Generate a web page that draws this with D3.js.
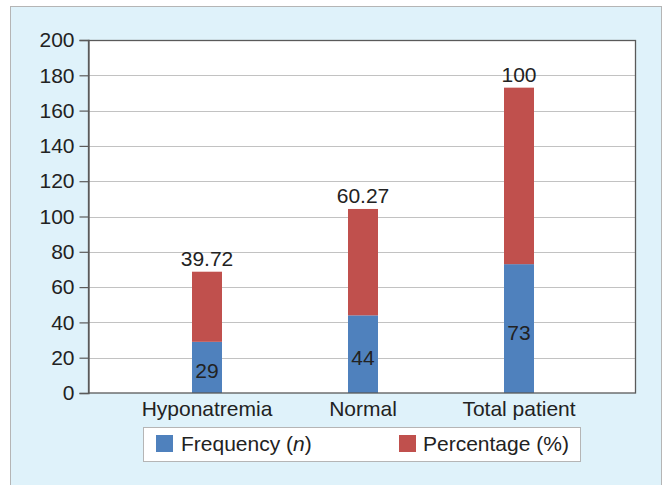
<!DOCTYPE html>
<html><head><meta charset="utf-8">
<script src="https://cdn.jsdelivr.net/npm/d3@7"></script>
<style>html,body{margin:0;padding:0;background:#fff}svg{display:block}</style>
</head><body><svg id="c" width="665" height="485"></svg>
<script>
const categories = ["Hyponatremia", "Normal", "Total patient"];
const frequency = [29, 44, 73];
const percentage = [39.72, 60.27, 100];
const percentLabels = ["39.72", "60.27", "100"];
const yTicks = [0, 20, 40, 60, 80, 100, 120, 140, 160, 180, 200];
const seriesNames = ["Frequency (", "Percentage (%)"];

const svg = d3.select("#c");
const font = "'Liberation Sans', Arial, sans-serif";
const fs = 21;
const blue = "#4F81BD", red = "#C0504D";

// outer panel
svg.append("rect").attr("x", 10.5).attr("y", 6.5).attr("width", 651).attr("height", 490)
  .attr("fill", "#dff2fa").attr("stroke", "#b5b5b5").attr("stroke-width", 1);

const L = 88.5, R = 635.5, T = 40, B = 393;
const y = d3.scaleLinear().domain([0, 200]).range([B, T]);
const x = d3.scalePoint().domain(categories).range([207, 519]);
const bw = 30;

svg.append("rect").attr("x", L).attr("y", T).attr("width", R - L).attr("height", B - T).attr("fill", "#fff");

// gridlines
svg.append("g").selectAll("line").data(yTicks.filter(d => d > 0 && d < 200)).join("line")
  .attr("x1", L).attr("x2", R).attr("y1", d => Math.round(y(d)) + 0.5).attr("y2", d => Math.round(y(d)) + 0.5)
  .attr("stroke", "#c2c2c2").attr("stroke-width", 1.2);

// bars
const g = svg.append("g");
categories.forEach((c, i) => {
  const cx = x(c);
  g.append("rect").attr("x", cx - bw / 2).attr("width", bw)
    .attr("y", y(frequency[i])).attr("height", y(0) - y(frequency[i])).attr("fill", blue);
  g.append("rect").attr("x", cx - bw / 2).attr("width", bw)
    .attr("y", y(frequency[i] + percentage[i])).attr("height", y(frequency[i]) - y(frequency[i] + percentage[i])).attr("fill", red);
  g.append("text").attr("x", cx).attr("y", (y(0) + y(frequency[i])) / 2 + 11)
    .attr("text-anchor", "middle").attr("font-family", font).attr("font-size", fs).attr("fill", "#222")
    .text(frequency[i]);
  g.append("text").attr("x", cx).attr("y", y(frequency[i] + percentage[i]) - 6)
    .attr("text-anchor", "middle").attr("font-family", font).attr("font-size", fs).attr("fill", "#222")
    .text(percentLabels[i]);
});

// frame
svg.append("rect").attr("x", L).attr("y", T + 0.5).attr("width", R - L).attr("height", B - T - 0.5)
  .attr("fill", "none").attr("stroke", "#5a5a5a").attr("stroke-width", 1.3);

// y axis
const yAxis = d3.axisLeft(y).tickValues(yTicks).tickSize(9).tickPadding(5);
const ya = svg.append("g").attr("transform", `translate(${L},0)`).call(yAxis);
ya.select(".domain").attr("stroke", "#5a5a5a").attr("stroke-width", 1.3);
ya.selectAll(".tick line").attr("stroke", "#5a5a5a").attr("stroke-width", 1.2);
ya.selectAll("text").attr("font-family", font).attr("font-size", fs).attr("fill", "#222");

// x labels
svg.append("g").selectAll("text").data(categories).join("text")
  .attr("x", d => x(d)).attr("y", 416).attr("text-anchor", "middle")
  .attr("font-family", font).attr("font-size", fs).attr("fill", "#222").text(d => d);

// legend
const lg = svg.append("g");
lg.append("rect").attr("x", 143.5).attr("y", 427.5).attr("width", 437).attr("height", 34)
  .attr("fill", "#fff").attr("stroke", "#b5b5b5");
lg.append("rect").attr("x", 156).attr("y", 435).attr("width", 17).attr("height", 17).attr("fill", blue);
const t1 = lg.append("text").attr("x", 181).attr("y", 451).attr("font-family", font).attr("font-size", fs).attr("fill", "#222");
t1.append("tspan").text(seriesNames[0]);
t1.append("tspan").attr("font-style", "italic").text("n");
t1.append("tspan").text(")");
lg.append("rect").attr("x", 399).attr("y", 435).attr("width", 17).attr("height", 17).attr("fill", red);
lg.append("text").attr("x", 423).attr("y", 451).attr("font-family", font).attr("font-size", fs).attr("fill", "#222").text(seriesNames[1]);
</script></body></html>
